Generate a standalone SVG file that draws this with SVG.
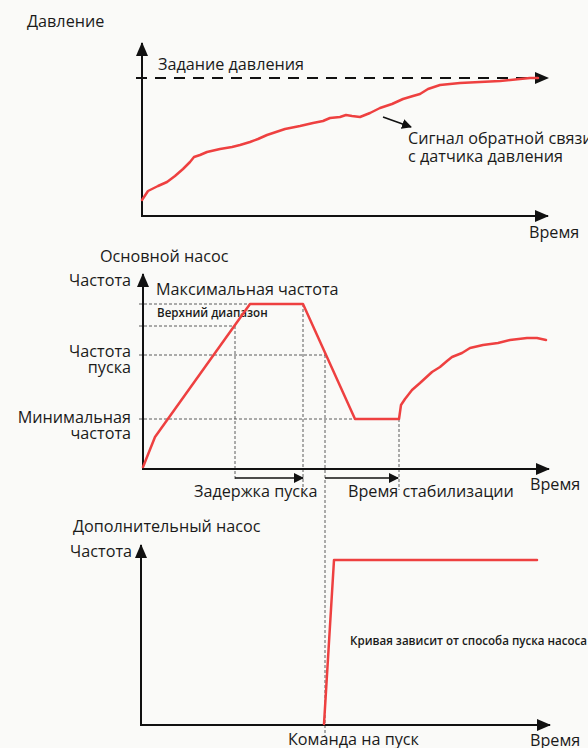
<svg xmlns="http://www.w3.org/2000/svg" width="588" height="748" viewBox="0 0 588 748">
<defs>
<marker id="ah" viewBox="0 0 10 10" refX="9" refY="5" markerWidth="10" markerHeight="10" markerUnits="userSpaceOnUse" orient="auto"><path d="M0,0 L10,5 L0,10 z" fill="#111"/></marker>
<marker id="axh" viewBox="0 0 14 12" refX="13" refY="6" markerWidth="14" markerHeight="12" markerUnits="userSpaceOnUse" orient="auto"><path d="M0,0 L14,6 L0,12 z" fill="#111"/></marker>
<style>
text{font-family:"Open Sans","Noto Sans","DejaVu Sans",sans-serif;fill:#1a1a1a}
.t{font-size:16.2px}
.s{font-size:11.6px;font-weight:600}
.r{text-anchor:end}
.axis{stroke:#111;stroke-width:2;fill:none}
.thin{stroke:#333;stroke-width:0.8;stroke-dasharray:3,2;fill:none}
.sp{stroke:#ee4040;stroke-width:2.5;fill:none;stroke-linejoin:round;stroke-linecap:round}
.ar{stroke:#111;stroke-width:1.6;fill:none}
</style>
</defs>
<rect width="588" height="748" fill="#fafaf8"/>

<g id="pressure-chart">
<text class="t" x="27" y="27">Давление</text>
<text class="t" x="158" y="70">Задание давления</text>
<text class="t" x="408" y="144">Сигнал обратной связи</text>
<text class="t" x="408" y="162">с датчика давления</text>
<text class="t" x="529" y="238">Время</text>
</g>

<g id="main-pump-chart">
<text class="t" x="100" y="262">Основной насос</text>
<text class="t r" x="131" y="286">Частота</text>
<text class="t" x="156" y="295">Максимальная частота</text>
<text class="s" x="157" y="317">Верхний диапазон</text>
<text class="t r" x="131" y="357">Частота</text>
<text class="t r" x="131" y="373">пуска</text>
<text class="t r" x="131" y="423">Минимальная</text>
<text class="t r" x="131" y="439">частота</text>
<text class="t" x="194" y="497">Задержка пуска</text>
<text class="t" x="348" y="497">Время стабилизации</text>
<text class="t" x="530" y="490">Время</text>
</g>

<g id="extra-pump-chart">
<text class="t" x="73" y="532">Дополнительный насос</text>
<text class="t r" x="132" y="557">Частота</text>
<text class="s" x="350" y="645">Кривая зависит от способа пуска насоса</text>
<text class="t" x="288" y="745">Команда на пуск</text>
<text class="t" x="530" y="746">Время</text>
</g>

<g id="connectors">
<!-- top chart -->
<line class="axis" x1="142" y1="217" x2="142" y2="43" marker-end="url(#axh)"/>
<line class="axis" x1="141" y1="216" x2="548" y2="216" marker-end="url(#axh)"/>
<line x1="136" y1="78" x2="548" y2="78" stroke="#111" stroke-width="2" stroke-dasharray="11,8" marker-end="url(#axh)"/>
<path class="sp" d="M142,200 L148,191 L158,186 L167,182 L175,176 L183,169 L190,162 L194,157 L200,155 L207,152 L220,149 L232,147 L240,145 L250,142 L258,139 L267,135 L276,132 L285,129 L300,126 L313,123 L323,121 L330,118 L340,117 L346,115 L352,116 L360,117 L370,113 L380,108 L392,104 L403,99 L413,96 L420,94 L428,89 L440,85 L460,83 L480,82 L500,81 L520,79 L530,78 L538,78"/>
<line class="ar" x1="383" y1="117" x2="411" y2="127" marker-end="url(#ah)"/>

<!-- middle chart -->
<line class="thin" x1="139" y1="304" x2="250" y2="304"/>
<line class="thin" x1="139" y1="326" x2="235" y2="326"/>
<line class="thin" x1="139" y1="355" x2="325" y2="355"/>
<line class="thin" x1="139" y1="419" x2="355" y2="419"/>
<line class="thin" x1="235" y1="326" x2="235" y2="481"/>
<line class="thin" x1="303" y1="304" x2="303" y2="490"/>
<line class="thin" x1="325" y1="355" x2="325" y2="736"/>
<line class="thin" x1="399" y1="419" x2="399" y2="490"/>
<line class="axis" x1="143" y1="470" x2="143" y2="274" marker-end="url(#axh)"/>
<line class="axis" x1="142" y1="469" x2="549" y2="469" marker-end="url(#axh)"/>
<path class="sp" d="M143,467 L155,437 L250,304 L303,304 L355,419 L399,419 L401,405 L405,399 L412,390 L420,383 L432,372 L440,367 L447,361 L452,357 L462,353 L470,348 L483,345 L498,343 L510,340 L527,338 L537,338 L546,340"/>
<line class="ar" x1="235" y1="478" x2="303" y2="478" marker-end="url(#ah)"/>
<line class="ar" x1="325" y1="478" x2="398" y2="478" marker-end="url(#ah)"/>

<!-- bottom chart -->
<line class="axis" x1="141" y1="726" x2="141" y2="545" marker-end="url(#axh)"/>
<line class="axis" x1="140" y1="725" x2="550" y2="725" marker-end="url(#axh)"/>
<path class="sp" d="M324,724 L334,560 L537,560"/>
</g>
</svg>
